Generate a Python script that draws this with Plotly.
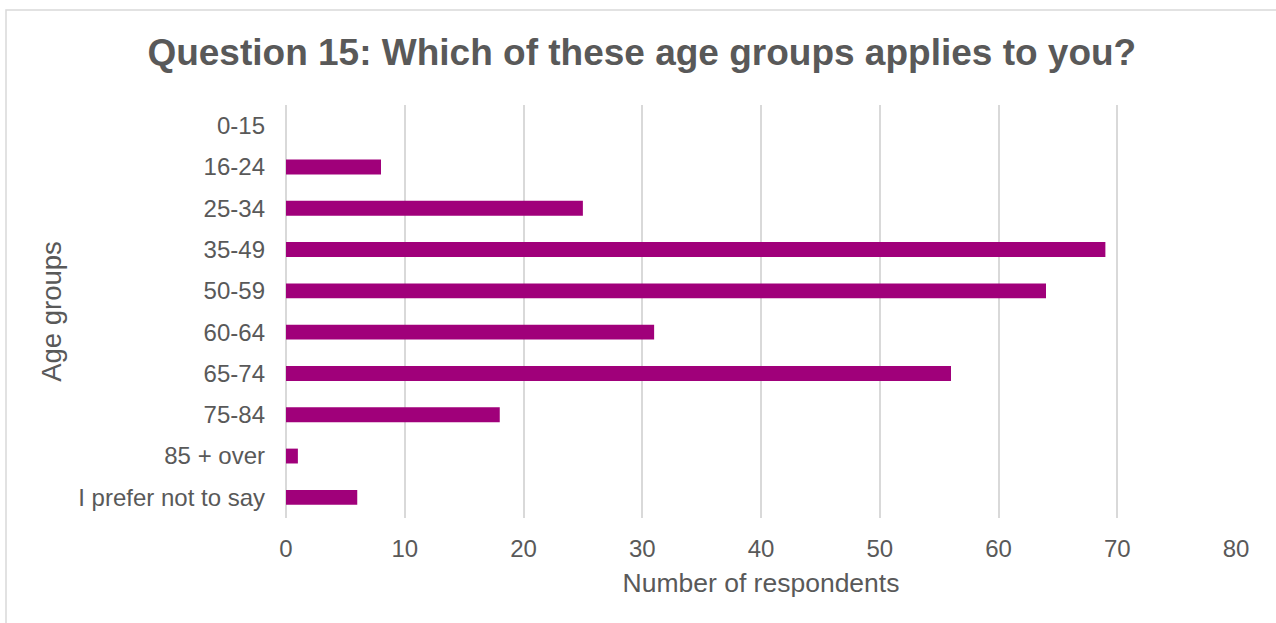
import plotly.graph_objects as go

categories = ["0-15", "16-24", "25-34", "35-49", "50-59", "60-64", "65-74", "75-84", "85 + over", "I prefer not to say"]
respondents = [0, 8, 25, 69, 64, 31, 56, 18, 1, 6]
x_ticks = [0, 10, 20, 30, 40, 50, 60, 70, 80]

W, H = 1276, 623
L, R, T, B = 286, 40, 105, 105
pw, ph = W - L - R, H - T - B

def px_x(p):
    return (p - L) / pw

def px_y(p):
    return 1 - (p - T) / ph

FONT = "Liberation Sans, Arial, sans-serif"
GREY = "#595959"
GRID = "#D9D9D9"

fig = go.Figure(go.Bar(
    y=categories,
    x=respondents,
    orientation="h",
    marker=dict(color="#A0007A", line=dict(width=0)),
    width=0.36,
))

fig.update_layout(
    width=W, height=H,
    margin=dict(l=L, r=R, t=T, b=B, autoexpand=False),
    paper_bgcolor="white",
    plot_bgcolor="white",
    showlegend=False,
    font=dict(family=FONT, color=GREY),
    title=dict(
        text="<b>Question 15: Which of these age groups applies to you?</b>",
        x=0.503, xanchor="center",
        y=1 - 52 / H, yanchor="middle",
        yref="container",
        font=dict(family=FONT, size=37, color=GREY),
    ),
    xaxis=dict(
        range=[0, 80],
        tickvals=x_ticks,
        showgrid=True, gridcolor=GRID, gridwidth=1.5,
        zeroline=True, zerolinecolor=GRID, zerolinewidth=1.5,
        showline=False,
        ticks="",
        ticklabelstandoff=14,
        tickfont=dict(size=24, color=GREY),
        title=dict(text="Number of respondents", font=dict(size=26.5, color=GREY), standoff=12),
    ),
    yaxis=dict(
        categoryorder="array",
        categoryarray=categories,
        autorange="reversed",
        showgrid=False,
        showline=False,
        zeroline=False,
        ticks="",
        ticklabelstandoff=20,
        tickfont=dict(size=24, color=GREY),
        title=dict(text="Age groups", font=dict(size=27.5, color=GREY), standoff=8),
    ),
    shapes=[
        dict(type="rect", xref="paper", yref="paper",
             x0=px_x(6), x1=px_x(W + 20), y0=px_y(H + 20), y1=px_y(10),
             line=dict(color="#D9D9D9", width=1.5), fillcolor="rgba(0,0,0,0)", layer="below"),
    ],
)

fig.write_html(
    "out.html",
    config={"displayModeBar": False},
    post_script="document.body.style.margin='0';document.body.style.overflow='hidden';",
)
